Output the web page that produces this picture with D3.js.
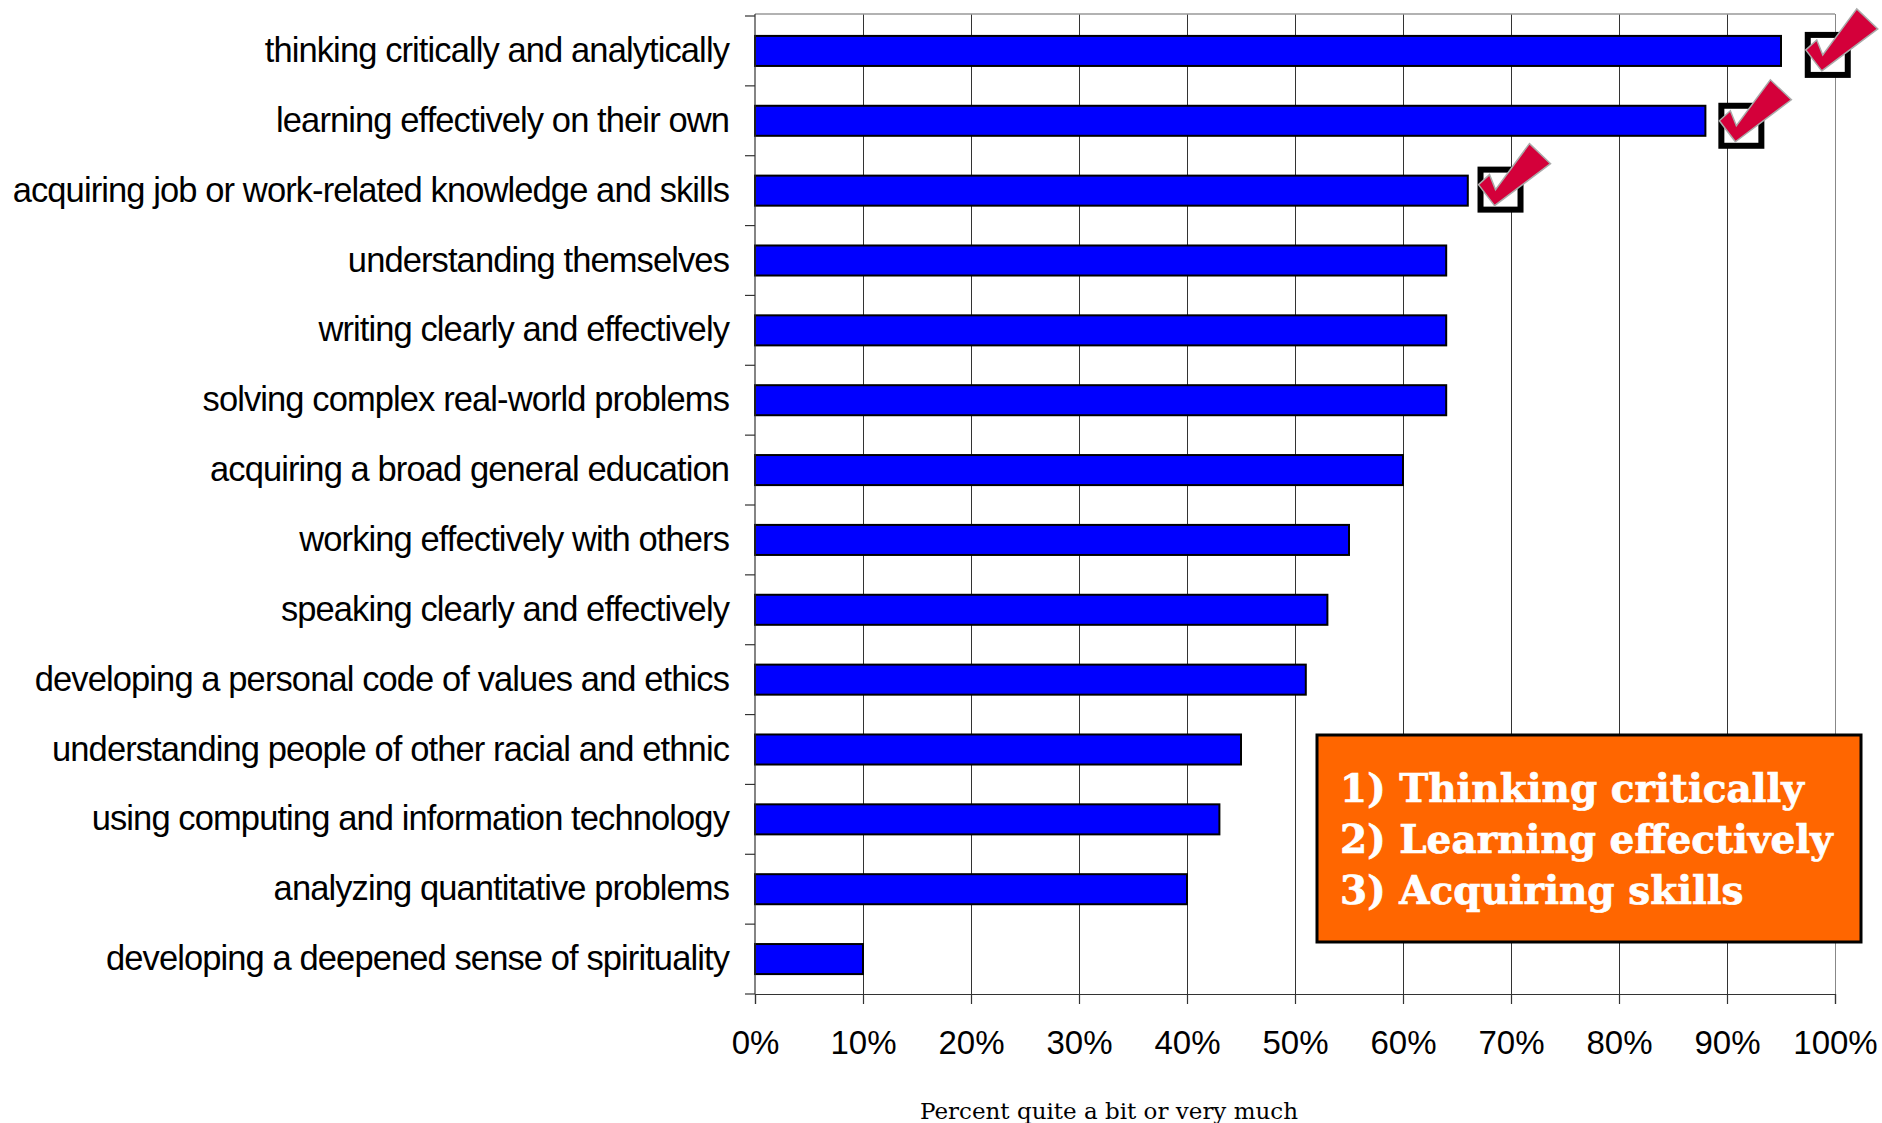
<!DOCTYPE html>
<html>
<head>
<meta charset="utf-8">
<script src="https://cdnjs.cloudflare.com/ajax/libs/d3/7.8.5/d3.min.js"></script>
<style>
  html, body { margin: 0; padding: 0; background: #fff; overflow: hidden; }
  svg { display: block; }
  .axis text { fill: #000; font-family: "Liberation Sans", Arial, sans-serif; }
</style>
</head>
<body>
<div id="chart"></div>
<script>
var categories = [
  "thinking critically and analytically",
  "learning effectively on their own",
  "acquiring job or work-related knowledge and skills",
  "understanding themselves",
  "writing clearly and effectively",
  "solving complex real-world problems",
  "acquiring a broad general education",
  "working effectively with others",
  "speaking clearly and effectively",
  "developing a personal code of values and ethics",
  "understanding people of other racial and ethnic",
  "using computing and information technology",
  "analyzing quantitative problems",
  "developing a deepened sense of spirituality"
];
var percents = [95, 88, 66, 64, 64, 64, 60, 55, 53, 51, 45, 43, 40, 10];
var xTicks = [0, 10, 20, 30, 40, 50, 60, 70, 80, 90, 100];
var checkedItems = categories.slice(0, 3);
var checkAt = [97.2, 89.2, 66.9]; // left edge of each check box, in percent
var calloutLines = ["1) Thinking critically", "2) Learning effectively", "3) Acquiring skills"];
var xTitle = "Percent quite a bit or very much";

var width = 1882, height = 1123;
var left = 755, right = 1835, top_ = 14, bottom = 994;

var svg = d3.select("#chart").append("svg")
  .attr("width", width)
  .attr("height", height);

var x = d3.scaleLinear().domain([0, 100]).range([left, right]);
var y = d3.scaleBand().domain(categories).range([top_ + 2, bottom]).paddingInner(0.57).paddingOuter(0.285);

// gridlines
svg.selectAll("line.grid")
  .data(xTicks.slice(1))
  .enter()
  .append("line")
    .attr("class", "grid")
    .attr("x1", function (d) { return x(d); })
    .attr("x2", function (d) { return x(d); })
    .attr("y1", top_)
    .attr("y2", bottom)
    .attr("shape-rendering", "crispEdges")
    .attr("stroke", function (d) { return d == 100 ? "#888" : "#333"; })
    .attr("stroke-width", 1);

// top edge of plot
svg.append("line")
  .attr("x1", left).attr("x2", right)
  .attr("y1", top_).attr("y2", top_)
  .attr("stroke", "#999")
  .attr("stroke-width", 1.5);

// bars
svg.selectAll("rect.bar")
  .data(percents)
  .enter()
  .append("rect")
    .attr("class", "bar")
    .attr("x", x(0))
    .attr("y", function (d, i) { return y(categories[i]); })
    .attr("width", function (d) { return x(d) - x(0); })
    .attr("height", y.bandwidth())
    .attr("fill", "#0000ff")
    .attr("stroke", "#000")
    .attr("stroke-width", 2);

// x axis
var xAxis = svg.append("g")
  .attr("class", "axis")
  .attr("transform", "translate(0," + bottom + ")")
  .call(d3.axisBottom(x).tickValues(xTicks).tickFormat(function (d) { return d + "%"; }).tickSize(10).tickPadding(27));
xAxis.selectAll("text").attr("font-size", 33);
xAxis.selectAll("path, line").attr("stroke", "#333").attr("stroke-width", 1.2);

// y axis, ticks sit between the categories
var yAxis = svg.append("g")
  .attr("class", "axis")
  .attr("transform", "translate(" + left + ",0)")
  .call(d3.axisLeft(y).tickSize(0).tickPadding(26));
yAxis.select("path").attr("stroke", "#333").attr("stroke-width", 1.2).attr("d", "M0," + top_ + "V" + bottom);
yAxis.selectAll("text")
  .attr("font-size", 34.5)
  .attr("letter-spacing", -0.9)
  .attr("dy", "0.32em");

var yEdges = categories.map(function (c) { return y(c) - y.step() * y.paddingInner() / 2; });
yEdges.push(bottom);
svg.selectAll("line.ytick")
  .data(yEdges)
  .enter()
  .append("line")
    .attr("class", "ytick")
    .attr("x1", left - 10)
    .attr("x2", left)
    .attr("y1", function (d) { return d; })
    .attr("y2", function (d) { return d; })
    .attr("stroke", "#333")
    .attr("stroke-width", 1.2);

// x axis title
svg.append("text")
  .attr("x", 1109)
  .attr("y", 1119)
  .attr("text-anchor", "middle")
  .attr("font-family", "'DejaVu Serif', serif")
  .attr("font-size", 23)
  .text(xTitle);

// check marks on the three top items
var checkLift = [4, 3, 9];
var checks = svg.selectAll("g.check")
  .data(checkedItems)
  .enter()
  .append("g")
    .attr("class", "check")
    .attr("transform", function (d, i) { return "translate(" + x(checkAt[i]) + "," + (y(d) - checkLift[i]) + ")"; });
checks.append("rect")
  .attr("x", 3).attr("y", 3)
  .attr("width", 40).attr("height", 40)
  .attr("fill", "#fff")
  .attr("stroke", "#000")
  .attr("stroke-width", 6);
checks.append("path")
  .attr("d", "M17,39 L1,18 L12,8 L18,23 L52,-23 L73,-3 Z")
  .attr("fill", "#d4003a")
  .attr("stroke", "#aaa")
  .attr("stroke-width", 1.5);

// orange callout
svg.append("rect")
  .attr("x", 1317)
  .attr("y", 735)
  .attr("width", 544)
  .attr("height", 207)
  .attr("fill", "#ff6600")
  .attr("stroke", "#000")
  .attr("stroke-width", 3);
svg.selectAll("text.callout")
  .data(calloutLines)
  .enter()
  .append("text")
    .attr("class", "callout")
    .attr("x", 1340)
    .attr("y", function (d, i) { return 802 + i * 51; })
    .attr("font-family", "'DejaVu Serif', serif")
    .attr("font-weight", "bold")
    .attr("font-size", 39)
    .attr("fill", "#fff")
    .attr("stroke", "#fff")
    .attr("stroke-width", 0.7)
    .text(function (d) { return d; });
</script>
</body>
</html>
